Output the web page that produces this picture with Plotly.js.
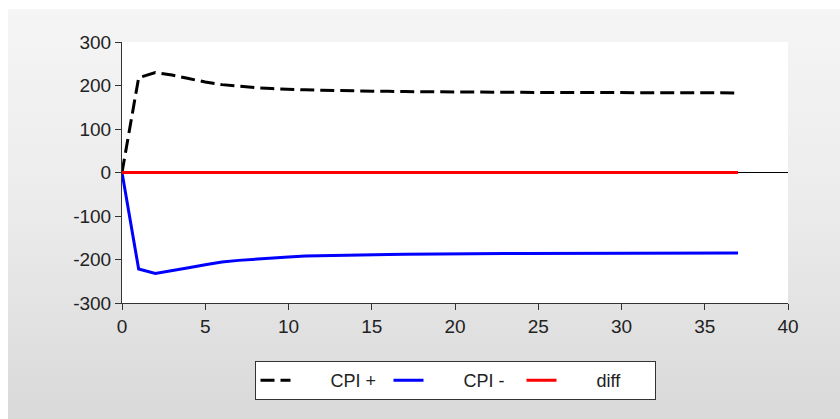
<!DOCTYPE html>
<html>
<head>
<meta charset="utf-8">
<script src="https://cdn.plot.ly/plotly-3.0.1.min.js"></script>
<style>
  html, body { margin: 0; padding: 0; background: #ffffff; }
  #bg { position: absolute; left: 8px; top: 9px; width: 832px; height: 410px;
        background: linear-gradient(to bottom, #f5f5f5 0%, #ebebeb 50%, #d9d9d9 100%); }
  #chart { position: absolute; left: 0; top: 0; width: 840px; height: 419px; }
</style>
</head>
<body>
<div id="bg"></div>
<div id="chart"></div>
<script>
const periods = Array.from({length: 38}, (_, i) => i);
const cpiPlus = [0, 218, 230, 224, 216, 208, 202, 198, 195, 193, 191, 190, 189, 188, 187.5, 187, 186.5, 186, 185.5, 185.2, 185, 184.8, 184.6, 184.4, 184.2, 184, 183.9, 183.8, 183.7, 183.6, 183.5, 183.4, 183.3, 183.2, 183.1, 183, 183, 183];
const cpiMinus = [0, -222, -232, -226, -219, -212, -206, -202, -199, -196, -194, -192, -191, -190, -189.5, -189, -188.5, -188, -187.5, -187.2, -187, -186.8, -186.6, -186.4, -186.2, -186, -185.9, -185.8, -185.7, -185.6, -185.5, -185.4, -185.3, -185.2, -185.1, -185, -185, -185];
const diff = [0, 0, 0, 0, 0, 0, 0, 0, 0, 0, 0, 0, 0, 0, 0, 0, 0, 0, 0, 0, 0, 0, 0, 0, 0, 0, 0, 0, 0, 0, 0, 0, 0, 0, 0, 0, 0, 0];
const seriesNames = ['CPI +', 'CPI -', 'diff'];
const yTickVals = [-300, -200, -100, 0, 100, 200, 300];
const yTickText = ['-300', '-200', '-100', '0', '100', '200', '300'];
const xTickVals = [0, 5, 10, 15, 20, 25, 30, 35, 40];

const pad = '\u00a0'.repeat(7);
const traces = [
  {x: periods, y: cpiPlus, name: pad + seriesNames[0], mode: 'lines',
   line: {color: '#000000', width: 3, dash: '14px,6px'}},
  {x: periods, y: cpiMinus, name: pad + seriesNames[1], mode: 'lines',
   line: {color: '#0000ff', width: 3}},
  {x: periods, y: diff, name: pad + seriesNames[2], mode: 'lines',
   line: {color: '#ff0000', width: 3}}
];

const layout = {
  width: 840, height: 419,
  margin: {l: 122, r: 52, t: 42, b: 116},
  paper_bgcolor: 'rgba(0,0,0,0)',
  plot_bgcolor: '#ffffff',
  font: {family: 'Liberation Sans, Arial, sans-serif', size: 19, color: '#222222'},
  showlegend: true,
  legend: {orientation: 'h', x: 0.5, xanchor: 'center', y: -0.222, yanchor: 'top',
           bgcolor: '#ffffff', bordercolor: '#333333', borderwidth: 1,
           entrywidth: 88, entrywidthmode: 'pixels',
           font: {size: 18, color: '#222222'}},
  xaxis: {range: [0, 40], tickvals: xTickVals, showgrid: false, zeroline: false,
          showline: true, linecolor: '#333333', linewidth: 1,
          ticks: 'outside', ticklen: 6, tickcolor: '#333333', fixedrange: true},
  yaxis: {range: [-300, 300], tickvals: yTickVals, ticktext: yTickText, showgrid: false,
          zeroline: true, zerolinecolor: '#000000', zerolinewidth: 1,
          showline: true, linecolor: '#333333', linewidth: 1,
          ticks: 'outside', ticklen: 6, tickcolor: '#333333', fixedrange: true}
};

Plotly.newPlot('chart', traces, layout, {displayModeBar: false, staticPlot: true});
</script>
</body>
</html>
